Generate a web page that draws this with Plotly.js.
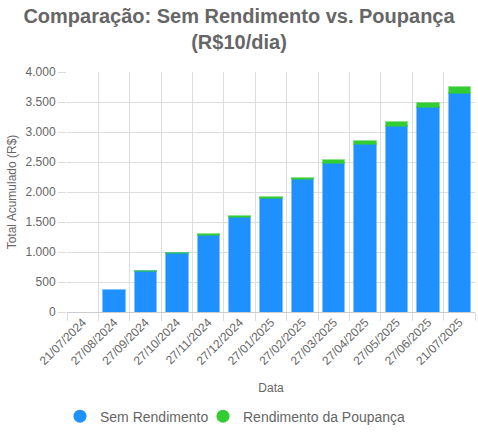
<!DOCTYPE html>
<html>
<head>
<meta charset="utf-8">
<script src="https://cdn.plot.ly/plotly-3.0.1.min.js"></script>
<style>
  html, body { margin: 0; padding: 0; background: #fff; }
  #chart { width: 478px; height: 433px; }
</style>
</head>
<body>
<div id="chart"></div>
<script>
// datas dos aportes
var datas = ['21/07/2024', '27/08/2024', '27/09/2024', '27/10/2024', '27/11/2024', '27/12/2024',
  '27/01/2025', '27/02/2025', '27/03/2025', '27/04/2025', '27/05/2025', '27/06/2025', '21/07/2025'];

// total guardado sem rendimento (R$10/dia)
var semRendimento = [0, 370, 680, 980, 1290, 1590, 1900, 2210, 2490, 2800, 3100, 3410, 3650];

// parte extra que veio da poupanca
var rendPoupanca = [0, 0, 2, 5, 10, 16, 22, 30, 40, 50, 60, 74, 96];

var AZUL = '#1E90FF';
var VERDE = '#32CD32';
var CINZA = '#666666';
var GRADE = '#dddddd';

// sem borda quando a barra e zero
function borda(vals) {
  return vals.map(function (v) { return v > 0 ? 2 : 0; });
}

var traces = [
  {
    x: datas,
    y: semRendimento,
    type: 'bar',
    name: 'Sem Rendimento',
    showlegend: false,
    marker: { color: AZUL, line: { color: 'rgba(30,144,255,0.55)', width: borda(semRendimento) } },
  },
  {
    x: datas,
    y: rendPoupanca,
    type: 'bar',
    name: 'Rendimento da Poupança',
    showlegend: false,
    marker: { color: VERDE, line: { color: 'rgba(50,205,50,0.55)', width: borda(rendPoupanca) } },
  },
  // so para a legenda com bolinhas
  {
    x: [null], y: [null],
    type: 'scatter', mode: 'markers',
    name: 'Sem Rendimento',
    legend: 'legend',
    marker: { color: AZUL, size: 13 },
    hoverinfo: 'skip',
  },
  {
    x: [null], y: [null],
    type: 'scatter', mode: 'markers',
    name: 'Rendimento da Poupança',
    legend: 'legend2',
    marker: { color: VERDE, size: 13 },
    hoverinfo: 'skip',
  }
];

var legendaBase = {
  orientation: 'h',
  bgcolor: 'rgba(0,0,0,0)',
  xref: 'container', xanchor: 'left',
  y: 0.038, yref: 'container', yanchor: 'middle',
  font: { size: 14, color: CINZA },
};

var layout = {
  width: 478,
  height: 433,
  margin: { l: 67, r: 3, t: 72, b: 121 },
  paper_bgcolor: '#fff',
  plot_bgcolor: '#fff',
  barmode: 'stack',
  bargap: 0.32,
  separators: ',.',
  font: { family: 'Liberation Sans, Arial, sans-serif', color: CINZA, size: 12 },
  title: {
    text: '<b>Comparação: Sem Rendimento vs. Poupança<br>(R$10/dia)</b>',
    font: { size: 20, color: CINZA },
    x: 0.5, xref: 'container', xanchor: 'center',
    y: 0.948, yref: 'container', yanchor: 'middle',
  },
  xaxis: {
    type: 'category',
    tickson: 'boundaries',
    ticks: 'outside',
    ticklen: 8,
    tickcolor: GRADE,
    tickangle: -45,
    showgrid: true,
    gridcolor: GRADE,
    showline: false,
    tickfont: { size: 12, color: CINZA },
    title: { text: 'Data', font: { size: 12, color: CINZA }, standoff: 16 },
  },
  yaxis: {
    range: [0, 4000],
    dtick: 500,
    tickformat: ',d',
    ticks: 'outside',
    ticklen: 8,
    tickcolor: GRADE,
    showgrid: true,
    gridcolor: GRADE,
    zeroline: true,
    zerolinecolor: '#cccccc',
    tickfont: { size: 12, color: CINZA },
    title: { text: 'Total Acumulado (R$)', font: { size: 12, color: CINZA }, standoff: 6 },
  },
  showlegend: true,
  legend: Object.assign({}, legendaBase, { x: 60 / 478 }),
  legend2: Object.assign({}, legendaBase, { x: 203 / 478 }),
};

Plotly.newPlot('chart', traces, layout, { displayModeBar: false, staticPlot: true });
</script>
</body>
</html>
